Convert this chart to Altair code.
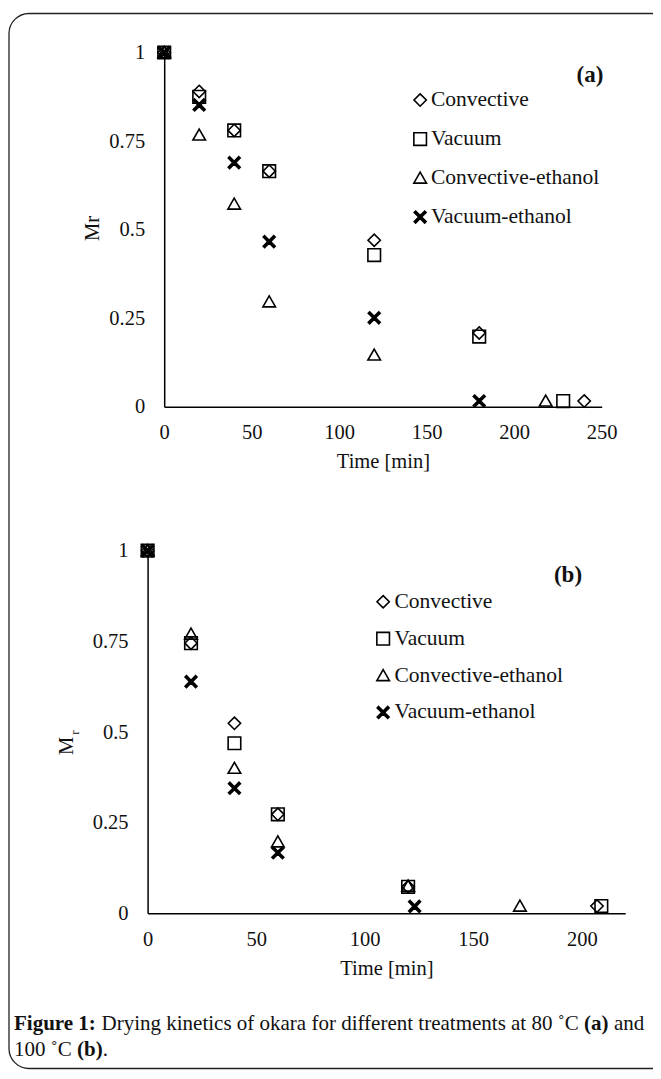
import altair as alt
import pandas as pd

FONT = "Liberation Serif"
INK = "#111111"

series = ["Convective", "Vacuum", "Convective-ethanol", "Vacuum-ethanol"]

# ---- Panel (a): 80 C ----
a_conv_t = [0, 20, 40, 60, 120, 180, 240]
a_conv_m = [1.0, 0.89, 0.78, 0.665, 0.47, 0.208, 0.016]
a_vac_t = [0, 20, 40, 60, 120, 180, 228]
a_vac_m = [1.0, 0.875, 0.78, 0.665, 0.428, 0.198, 0.016]
a_ceth_t = [0, 20, 40, 60, 120, 218]
a_ceth_m = [1.0, 0.767, 0.572, 0.296, 0.146, 0.016]
a_veth_t = [0, 20, 40, 60, 120, 180]
a_veth_m = [1.0, 0.852, 0.689, 0.466, 0.251, 0.016]

# ---- Panel (b): 100 C ----
b_conv_t = [0, 20, 40, 60, 120, 207]
b_conv_m = [1.0, 0.745, 0.524, 0.273, 0.073, 0.02]
b_vac_t = [0, 20, 40, 60, 120, 209]
b_vac_m = [1.0, 0.745, 0.469, 0.273, 0.073, 0.02]
b_ceth_t = [0, 20, 40, 60, 120, 171.5]
b_ceth_m = [1.0, 0.77, 0.40, 0.197, 0.075, 0.02]
b_veth_t = [0, 20, 40, 60, 123]
b_veth_m = [1.0, 0.639, 0.345, 0.167, 0.019]

x_ticks_a = [0, 50, 100, 150, 200, 250]
x_ticks_b = [0, 50, 100, 150, 200]
y_ticks = [0, 0.25, 0.5, 0.75, 1]


def long_df(parts):
    rows = []
    for name, ts, ms in parts:
        for t, m in zip(ts, ms):
            rows.append({"time": t, "mr": m, "series": name})
    return pd.DataFrame(rows)


df_a = long_df([
    ("Convective", a_conv_t, a_conv_m),
    ("Vacuum", a_vac_t, a_vac_m),
    ("Convective-ethanol", a_ceth_t, a_ceth_m),
    ("Vacuum-ethanol", a_veth_t, a_veth_m),
])
df_b = long_df([
    ("Convective", b_conv_t, b_conv_m),
    ("Vacuum", b_vac_t, b_vac_m),
    ("Convective-ethanol", b_ceth_t, b_ceth_m),
    ("Vacuum-ethanol", b_veth_t, b_veth_m),
])

SHAPES = [
    "M0,-0.88L0.88,0L0,0.88L-0.88,0Z",
    "M-0.9,-0.9L0.9,-0.9L0.9,0.9L-0.9,0.9Z",
    "M0,-0.85L0.9,0.72L-0.9,0.72Z",
    "M-0.65,-0.85L0,-0.2L0.65,-0.85L0.85,-0.65L0.2,0L0.85,0.65L0.65,0.85L0,0.2L-0.65,0.85L-0.85,0.65L-0.2,0L-0.85,-0.65Z",
]
FILLS = ["transparent", "transparent", "transparent", "black"]
STROKES = ["black", "black", "black", "black"]

W, H = 645, 1062


def panel(df, xdom, xrange, yrange, xticks, x_off, y_off, y_title, y_title_x, y_title_y,
          leg_x, leg_y, row_pad, lab_off):
    legend = alt.Legend(
        orient="none", legendX=leg_x, legendY=leg_y, title=None,
        labelFont=FONT, labelFontSize=21.5, labelColor=INK, rowPadding=row_pad,
        labelOffset=lab_off, labelLimit=400, symbolSize=196, symbolStrokeWidth=1.6,
        symbolStrokeColor="black", padding=0,
    )
    xaxis = alt.Axis(
        orient="bottom", offset=x_off, values=xticks, labelExpr="datum.value + ''",
        ticks=False, tickSize=0, grid=False, domainColor="black", domainWidth=1.5,
        labelFont=FONT, labelFontSize=20.5, labelColor=INK, labelPadding=16,
        labelFlush=False, labelOverlap=False,
        title="Time [min]", titleFont=FONT, titleFontSize=20.5, titleFontWeight="normal",
        titleColor=INK, titleBaseline="middle", titleY=55,
    )
    yargs = dict(
        orient="left", offset=y_off, values=y_ticks, labelExpr="datum.value + ''",
        ticks=False, tickSize=0, grid=False, domainColor="black", domainWidth=1.5,
        labelFont=FONT, labelFontSize=20.5, labelColor=INK, labelPadding=19.5,
        labelFlush=False, labelOverlap=False,
    )
    if y_title:
        yargs.update(title=y_title, titleFont=FONT, titleFontSize=20.5,
                     titleFontWeight="normal", titleColor=INK, titleAngle=270,
                     titleAlign="center", titleBaseline="middle",
                     titleX=y_title_x, titleY=y_title_y)
    else:
        yargs.update(title=None)
    yaxis = alt.Axis(**yargs)
    return alt.Chart(df).mark_point(
        filled=True, stroke="black", strokeWidth=1.6, size=196, opacity=1
    ).encode(
        x=alt.X("time:Q", scale=alt.Scale(domain=xdom, range=xrange, nice=False, zero=False), axis=xaxis),
        y=alt.Y("mr:Q", scale=alt.Scale(domain=[0, 1], range=yrange, nice=False), axis=yaxis),
        shape=alt.Shape("series:N", scale=alt.Scale(domain=series, range=SHAPES), legend=legend),
        fill=alt.Fill("series:N", scale=alt.Scale(domain=series, range=FILLS), legend=legend),
        stroke=alt.Stroke("series:N", scale=alt.Scale(domain=series, range=STROKES), legend=legend),
    )


# panel a: x 0..250 -> svg 156.2..593.7, y 0..1 -> svg 398.7..44.5
pa = panel(df_a, [0, 250], [156.2, 593.7], [398.7, 44.5], x_ticks_a,
           398.7 - H, -156.2, "Mr", -72.2, 220, 401.4, 81.3, 16.0, 0)
# panel b: x 0..220 -> svg 139.6..617.2, y 0..1 -> svg 905.3..542.7
pb = panel(df_b, [0, 220], [139.6, 617.2], [905.3, 542.7], x_ticks_b,
           905.3 - H, -139.6, None, 0, 0, 364.4, 583.0, 13.9, 0.6)

one = pd.DataFrame({"k": [0]})


def label(text, x, y, size, weight="normal", align="left", baseline="alphabetic", angle=None):
    kw = dict(text=text, font=FONT, fontSize=size, fontWeight=weight, align=align,
              baseline=baseline, color=INK)
    if angle is not None:
        kw["angle"] = angle
    return alt.Chart(one).mark_text(**kw).encode(x=alt.value(x), y=alt.value(y))


frame = alt.Chart(one).mark_rect(
    fill="transparent", stroke="#222222", strokeWidth=1.3, cornerRadius=20
).encode(x=alt.value(1), x2=alt.value(700), y=alt.value(5.5), y2=alt.value(H - 1.5))

texts = [
    label("(a)", 582, 67, 23, weight="bold", align="center", baseline="middle"),
    label("(b)", 560, 567, 23, weight="bold", align="center", baseline="middle"),
    label("M", 59, 738, 20.5, align="center", baseline="middle", angle=270),
    label("r", 66.5, 724.5, 13, align="center", baseline="middle", angle=270),
    # caption line 1
    label("Figure 1:", 6, 1022, 21, weight="bold"),
    label("Drying kinetics of okara for different treatments at 80 \u02daC", 93.5, 1022, 21),
    label("(a)", 576, 1022, 21, weight="bold"),
    label("and", 606, 1022, 21),
    # caption line 2
    label("100 \u02daC", 6, 1048, 21),
    label("(b)", 69, 1048, 21, weight="bold"),
    label(".", 94.7, 1048, 21),
]

chart = alt.layer(frame, pa, pb, *texts).resolve_scale(
    x="independent", y="independent", shape="independent", fill="independent",
    stroke="independent"
).resolve_axis(
    x="independent", y="independent"
).resolve_legend(
    shape="independent", fill="independent", stroke="independent"
).properties(
    width=W, height=H, padding=0, autosize=alt.AutoSizeParams(type="none")
).configure_view(strokeWidth=0)

chart.save("out.html", embed_options={"renderer": "svg", "actions": False})
